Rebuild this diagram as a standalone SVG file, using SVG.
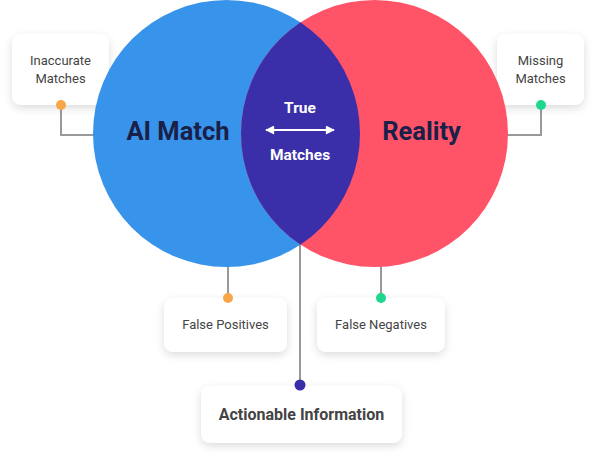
<svg xmlns="http://www.w3.org/2000/svg" width="596" height="460" viewBox="0 0 596 460">
<defs>
<filter id="sh" x="-30%" y="-30%" width="160%" height="170%">
<feDropShadow dx="0" dy="3" stdDeviation="4" flood-color="#000" flood-opacity="0.14"/>
</filter>
<clipPath id="clipBlue"><circle cx="226.5" cy="133.5" r="133.5"/></clipPath>
<marker id="ah" viewBox="0 0 10 10" refX="9" refY="5" markerWidth="10" markerHeight="9" orient="auto-start-reverse" markerUnits="userSpaceOnUse">
<path d="M0,0 L10,5 L0,10 z" fill="#fff"/>
</marker>
<style>
.box{fill:#fff;filter:url(#sh)}
.lbl{font-family:Roboto,"Liberation Sans",sans-serif;font-size:13px;fill:#444;text-anchor:middle}
.big{font-family:Roboto,"Liberation Sans",sans-serif;font-size:25.5px;font-weight:bold;fill:#1a2048;text-anchor:middle}
.wt{font-family:Roboto,"Liberation Sans",sans-serif;font-size:15.5px;font-weight:bold;fill:#fff;text-anchor:middle}
.ln{stroke:#999;stroke-width:2;fill:none}
</style>
</defs>
<g id="connectors">
<path class="ln" d="M61,105 V135 H100"/>
<path class="ln" d="M541,105 V135 H500"/>
<path class="ln" d="M228,260 V298"/>
<path class="ln" d="M381,260 V298"/>
<path class="ln" d="M300,240 V385"/>
</g>
<g id="inaccurate">
<rect class="box" x="12" y="34" width="97" height="71" rx="9"/>
<text class="lbl" x="60.5" y="65">Inaccurate</text>
<text class="lbl" x="60.5" y="83">Matches</text>
<circle cx="61" cy="105" r="5" fill="#f9a54a"/>
</g>
<g id="missing">
<rect class="box" x="497" y="34" width="87" height="71" rx="9"/>
<text class="lbl" x="540.5" y="65">Missing</text>
<text class="lbl" x="540.5" y="83">Matches</text>
<circle cx="541" cy="105" r="5" fill="#1fd68e"/>
</g>
<g id="ai-match">
<circle cx="226.5" cy="133.5" r="133.5" fill="#3893eb"/>
</g>
<g id="reality">
<circle cx="374.5" cy="133.5" r="133.5" fill="#ff5468"/>
</g>
<g id="true-matches">
<circle cx="374.5" cy="133.5" r="133.5" fill="#3a2ea9" clip-path="url(#clipBlue)"/>
<text class="wt" x="300" y="113">True</text>
<line x1="266" y1="130" x2="334" y2="130" stroke="#fff" stroke-width="2" marker-start="url(#ah)" marker-end="url(#ah)"/>
<text class="wt" x="300" y="160">Matches</text>
</g>
<text class="big" x="178" y="140">AI Match</text>
<text class="big" x="421.5" y="140">Reality</text>
<g id="false-positives">
<rect class="box" x="164" y="298" width="123" height="54" rx="9"/>
<text class="lbl" x="225.5" y="329">False Positives</text>
<circle cx="228" cy="298" r="5" fill="#f9a54a"/>
</g>
<g id="false-negatives">
<rect class="box" x="317" y="298" width="128" height="54" rx="9"/>
<text class="lbl" x="381" y="329">False Negatives</text>
<circle cx="381" cy="298" r="5" fill="#1fd68e"/>
</g>
<g id="actionable">
<rect class="box" x="201" y="386" width="201" height="57" rx="9"/>
<text class="lbl" x="301.5" y="420" style="font-size:16px;font-weight:bold">Actionable Information</text>
<circle cx="300" cy="385" r="5.5" fill="#3a2ea9"/>
</g>
</svg>
